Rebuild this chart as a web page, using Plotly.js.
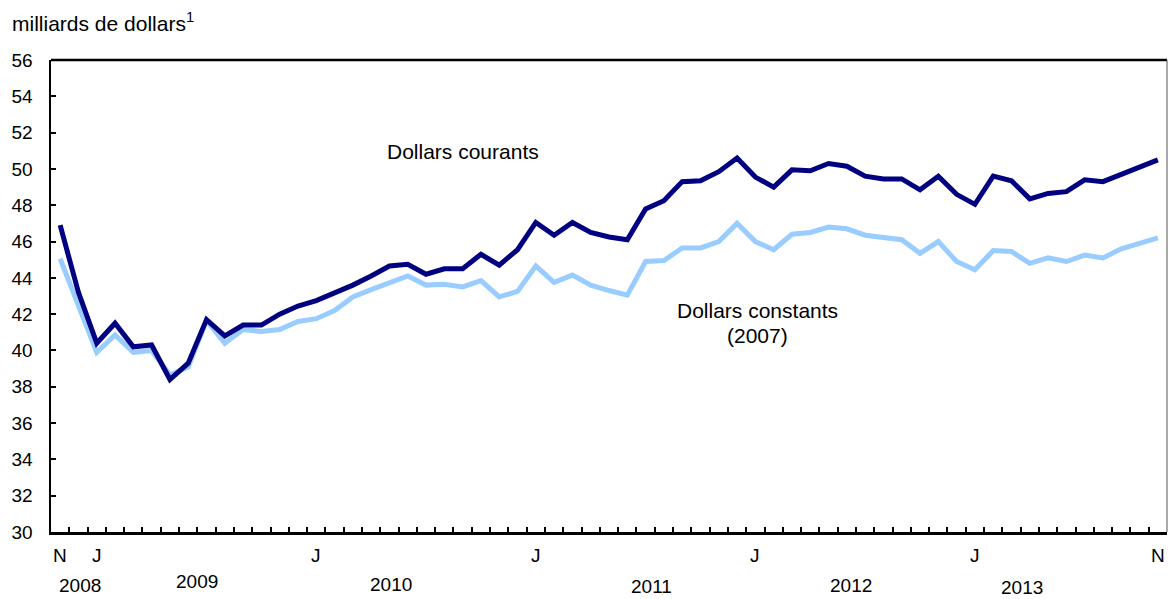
<!DOCTYPE html>
<html>
<head>
<meta charset="utf-8">
<script src="https://cdn.plot.ly/plotly-3.0.1.min.js"></script>
<style>html,body{margin:0;padding:0;background:#fff;}#chart{width:1168px;height:599px;}</style>
</head>
<body>
<div id="chart"></div>
<script>
const months = [
 '2008-11','2008-12',
 '2009-01','2009-02','2009-03','2009-04','2009-05','2009-06','2009-07','2009-08','2009-09','2009-10','2009-11','2009-12',
 '2010-01','2010-02','2010-03','2010-04','2010-05','2010-06','2010-07','2010-08','2010-09','2010-10','2010-11','2010-12',
 '2011-01','2011-02','2011-03','2011-04','2011-05','2011-06','2011-07','2011-08','2011-09','2011-10','2011-11','2011-12',
 '2012-01','2012-02','2012-03','2012-04','2012-05','2012-06','2012-07','2012-08','2012-09','2012-10','2012-11','2012-12',
 '2013-01','2013-02','2013-03','2013-04','2013-05','2013-06','2013-07','2013-08','2013-09','2013-10','2013-11'
];
const courants = [46.9,43.2,40.4,41.5,40.2,40.3,38.4,39.3,41.7,40.8,41.4,41.4,42.0,42.45,42.75,43.15,43.6,44.1,44.65,44.75,
 44.2,44.5,44.5,45.3,44.7,45.55,47.05,46.35,47.05,46.5,46.25,46.1,47.8,48.25,49.3,49.35,49.85,50.6,49.55,49.0,
 49.95,49.9,50.3,50.15,49.6,49.45,49.45,48.85,49.6,48.6,48.05,49.6,49.35,48.35,48.65,48.75,49.4,49.3,49.7,50.05,50.5];
const constants = [45.05,42.5,39.9,40.85,39.9,40.0,38.65,39.1,41.65,40.4,41.15,41.05,41.15,41.6,41.75,42.2,42.95,43.35,43.7,44.1,
 43.6,43.65,43.5,43.85,42.95,43.25,44.65,43.75,44.15,43.6,43.3,43.05,44.9,44.95,45.65,45.65,46.0,47.0,46.0,45.55,
 46.4,46.5,46.8,46.7,46.35,46.25,46.1,45.35,46.0,44.9,44.45,45.5,45.45,44.8,45.1,44.9,45.25,45.1,45.6,45.9,46.2];
const monthTickAt = ['2008-11','2009-01','2010-01','2011-01','2012-01','2013-01','2013-11'];
const monthTickText = ['N','J','J','J','J','J','N'];
const yearLabels = ['2008','2009','2010','2011','2012','2013'];
const yearPos = [1.07,7.48,18.1,32.3,43.2,52.6];
const yearShift = [-53,-49,-52,-54,-53,-55];
const yTicks = [30,32,34,36,38,40,42,44,46,48,50,52,54,56];

const fam = 'Liberation Sans, Arial, sans-serif';
const tickFont = {family:fam, size:19, color:'#000'};
const labFont = {family:fam, size:21, color:'#000'};

const traces = [
 {x:months, y:constants, type:'scatter', mode:'lines', name:'Dollars constants (2007)',
  line:{color:'#99ccff', width:5}},
 {x:months, y:courants, type:'scatter', mode:'lines', name:'Dollars courants',
  line:{color:'#000080', width:5}}
];

const ann = [];
monthTickAt.forEach((m,i)=>ann.push({x:m, xref:'x', y:0, yref:'paper', text:monthTickText[i], showarrow:false,
  yanchor:'middle', xanchor:'center', yshift:-23, font:tickFont}));
yearLabels.forEach((t,i)=>ann.push({x:yearPos[i], xref:'x', y:0, yref:'paper', text:t, showarrow:false,
  yanchor:'middle', xanchor:'center', yshift:yearShift[i], font:tickFont}));
ann.push({x:-41/1116, xref:'paper', xanchor:'left', y:1+38/472, yref:'paper', yanchor:'middle',
  text:'milliards de dollars<sup>1</sup>', showarrow:false, font:labFont});
ann.push({x:'2010-09', xref:'x', y:50.94, yref:'y', text:'Dollars courants', showarrow:false, font:labFont, xanchor:'center', yanchor:'middle'});
ann.push({x:38.1, xref:'x', y:42.2, yref:'y', text:'Dollars constants', showarrow:false, font:labFont, xanchor:'center', yanchor:'middle'});
ann.push({x:38.1, xref:'x', y:40.85, yref:'y', text:'(2007)', showarrow:false, font:labFont, xanchor:'center', yanchor:'middle'});

const layout = {
 width:1168, height:599,
 margin:{l:51, r:1, t:60, b:67},
 paper_bgcolor:'#fff', plot_bgcolor:'#fff',
 showlegend:false,
 font:tickFont,
 xaxis:{type:'category', range:[-0.5, months.length-0.5], tickson:'boundaries', ticks:'inside', ticklen:5,
   tickwidth:2, tickcolor:'#000', showticklabels:false, showgrid:false, zeroline:false,
   showline:true, linecolor:'#000', linewidth:2.5},
 yaxis:{range:[30,56], tickvals:yTicks, ticks:'inside', ticklen:5, tickwidth:2, tickcolor:'#000',
   showgrid:false, zeroline:false, showline:true, linecolor:'#000', linewidth:2.5,
   ticklabelstandoff:12, tickfont:tickFont},
 shapes:[
  {type:'line', xref:'paper', yref:'paper', x0:0, x1:1, y0:1, y1:1, line:{color:'#000', width:2.5}},
  {type:'line', xref:'paper', yref:'paper', x0:1, x1:1, y0:0, y1:1, line:{color:'#555', width:1}}
 ],
 annotations:ann
};
Plotly.newPlot('chart', traces, layout, {staticPlot:true, displayModeBar:false});
</script>
</body>
</html>
